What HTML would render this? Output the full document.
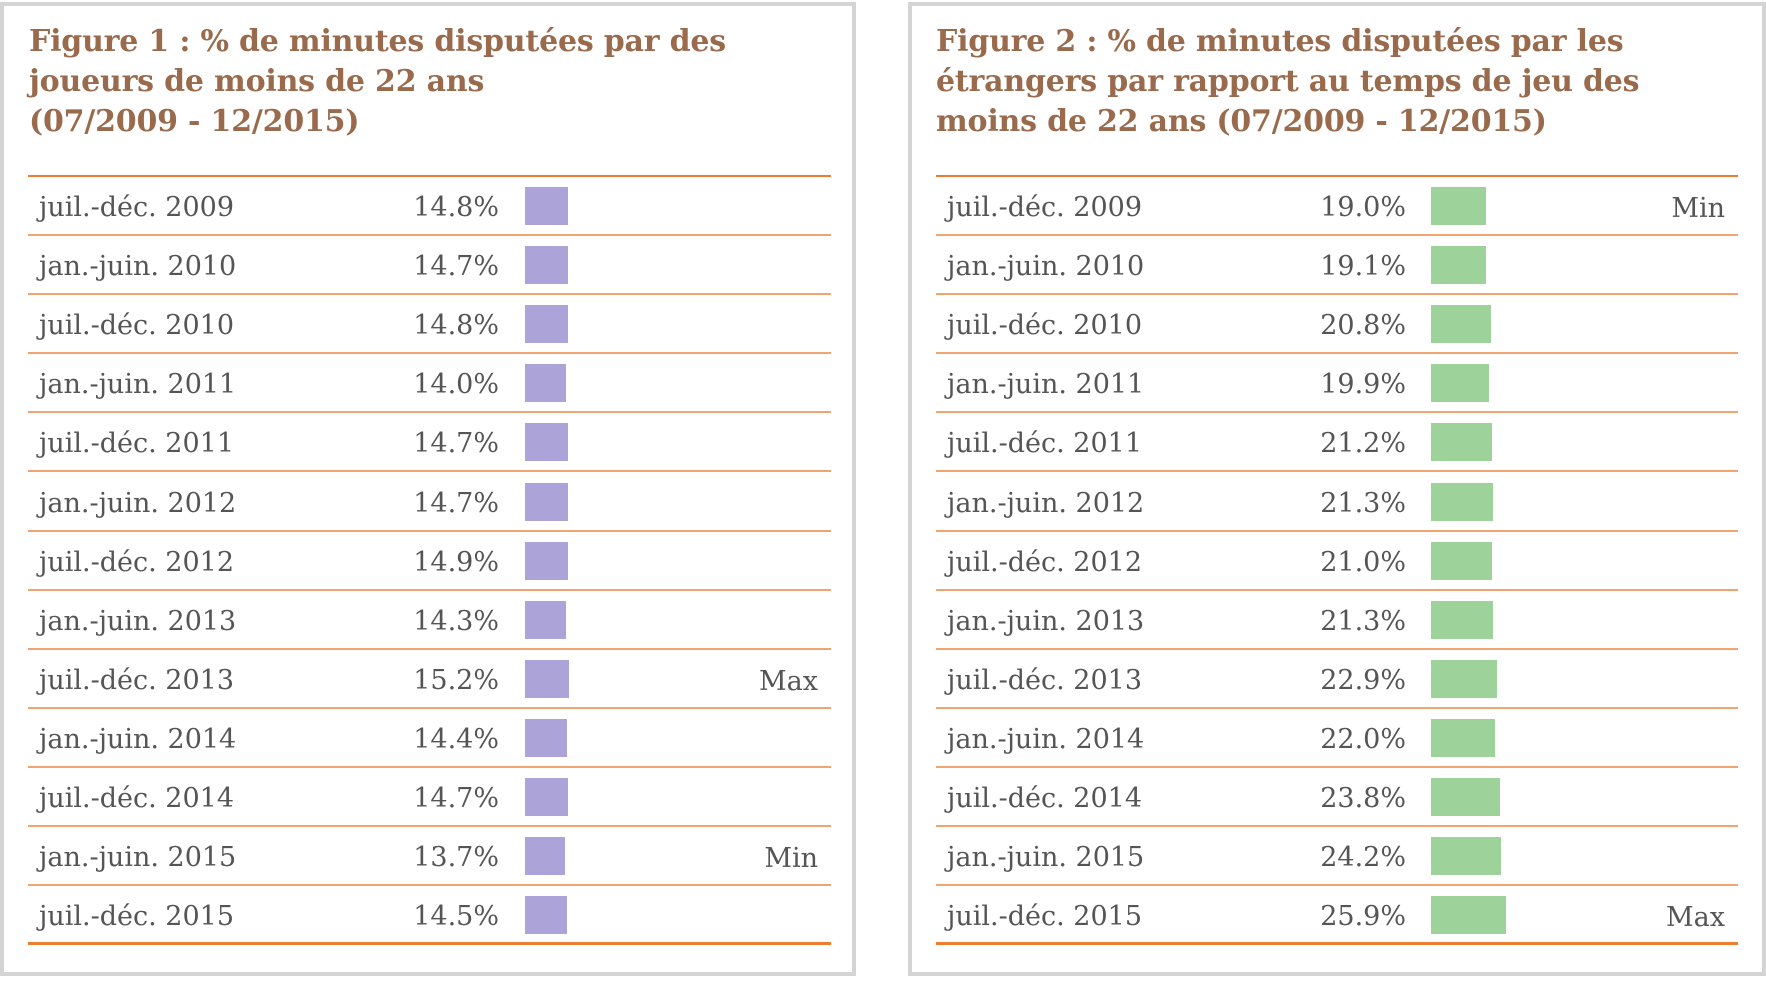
<!DOCTYPE html>
<html><head><meta charset="utf-8"><style>
body{margin:0;width:1766px;height:985px;background:#fff;position:relative;overflow:hidden;font-family:"DejaVu Serif","Liberation Serif",serif}
.p{position:absolute;top:2px;width:856px;height:974px;border:4px solid #d4d4d4;box-sizing:border-box}
.t{position:absolute;font-weight:bold;color:#9a6a4c;font-size:30px;line-height:40px;letter-spacing:-0.2px}
.r{position:absolute;height:59px;border-bottom:2px solid #f2a36f;box-sizing:border-box;color:#555;font-size:27px}
.l{position:absolute;top:15px}
.v{position:absolute;top:15px;text-align:right;width:160px}
.b{position:absolute;top:10px;height:38px}
.m{position:absolute;top:16px}
.top{position:absolute;height:2px;background:#ed7d31}
</style></head><body>
<div class="p" style="left:0"></div>
<div class="p" style="left:908px;width:858px"></div>
<div class="t" style="left:29px;top:22px">Figure 1 : % de minutes disputées par des<br>joueurs de moins de 22 ans<br>(07/2009 - 12/2015)</div>
<div class="t" style="left:936px;top:22px">Figure 2 : % de minutes disputées par les<br>étrangers par rapport au temps de jeu des<br>moins de 22 ans (07/2009 - 12/2015)</div>
<div id="a"></div>
<script>
var L=["juil.-déc. 2009","jan.-juin. 2010","juil.-déc. 2010","jan.-juin. 2011","juil.-déc. 2011","jan.-juin. 2012","juil.-déc. 2012","jan.-juin. 2013","juil.-déc. 2013","jan.-juin. 2014","juil.-déc. 2014","jan.-juin. 2015","juil.-déc. 2015"];
var A=[14.8,14.7,14.8,14.0,14.7,14.7,14.9,14.3,15.2,14.4,14.7,13.7,14.5];
var B=[19.0,19.1,20.8,19.9,21.2,21.3,21.0,21.3,22.9,22.0,23.8,24.2,25.9];
var h="";
function tab(x,w,vals,col,mk,barX,valR){
 h+='<div class="top" style="left:'+x+'px;top:175px;width:'+w+'px"></div>';
 for(var i=0;i<13;i++){
  var y=177+i*59.1;
  h+='<div class="r" style="left:'+x+'px;top:'+y+'px;width:'+w+'px'+(i==12?';border-bottom:3px solid #ed7d31':'')+'">'+
  '<span class="l" style="left:11px">'+L[i]+'</span>'+
  '<span class="v" style="left:'+(valR-160)+'px">'+vals[i].toFixed(1)+'%</span>'+
  '<div class="b" style="left:'+barX+'px;width:'+(vals[i]*2.9).toFixed(0)+'px;background:'+col+'"></div>'+
  (mk[i]?'<span class="m" style="right:13px">'+mk[i]+'</span>':'')+'</div>';
 }
}
tab(28,803,A,"#aca3d8",{8:"Max",11:"Min"},497,471);
tab(936,802,B,"#9dd29a",{0:"Min",12:"Max"},495,470);
document.getElementById("a").innerHTML=h;
</script>
</body></html>
